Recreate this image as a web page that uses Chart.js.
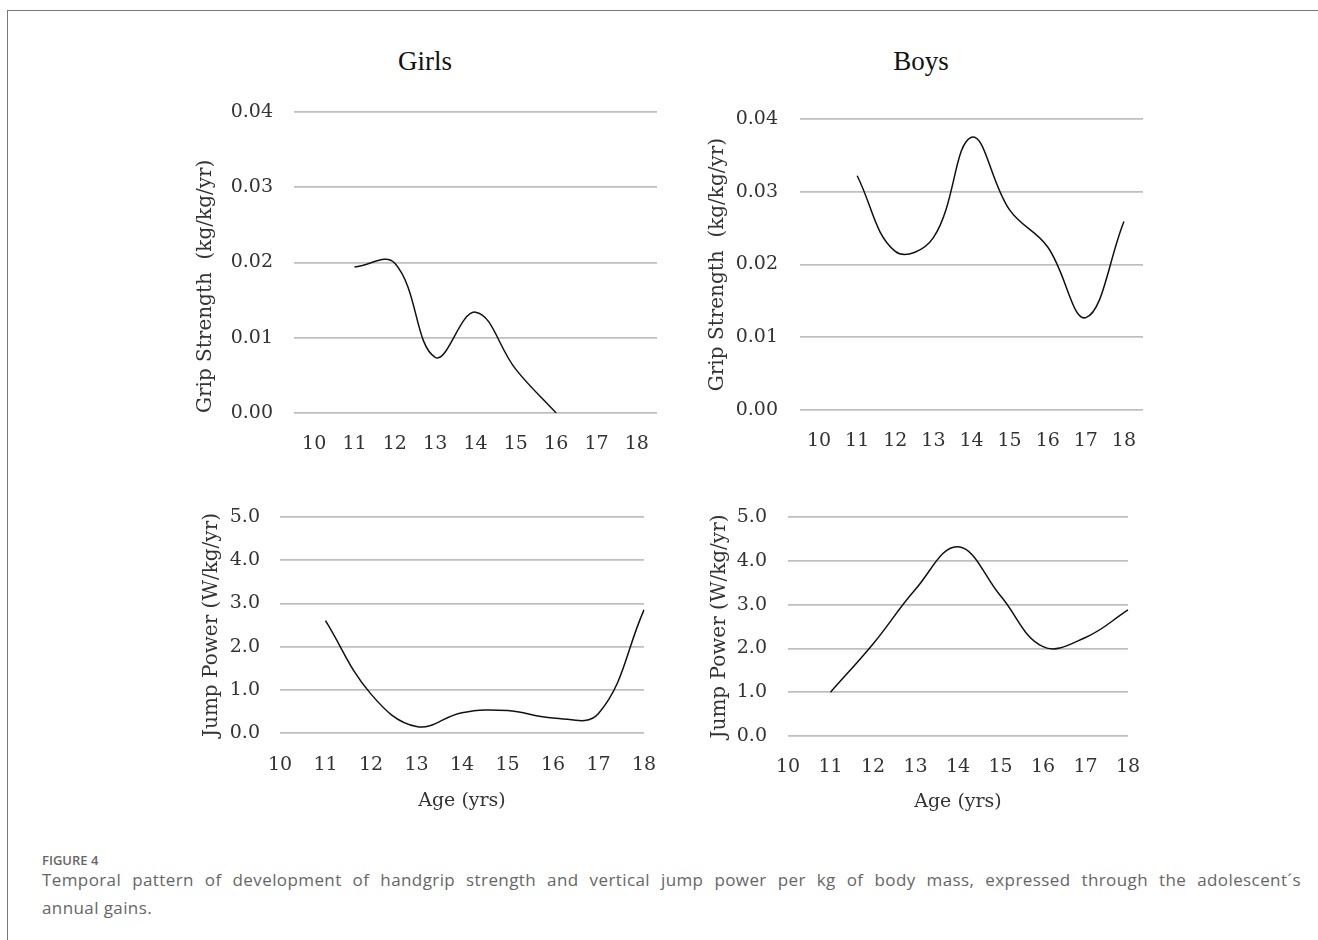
<!DOCTYPE html>
<html>
<head>
<meta charset="utf-8">
<script src="https://cdn.jsdelivr.net/npm/chart.js@4.4.1/dist/chart.umd.min.js"></script>
<style>
body { margin: 0; background: #fff; width: 1318px; height: 940px; overflow: hidden; position: relative; }
#frame { position: absolute; left: 7px; top: 10px; width: 1330px; height: 950px; border-left: 1px solid #777; border-top: 1px solid #777; }
canvas { position: absolute; }
.head { position: absolute; font-family: "Liberation Serif", serif; font-size: 27px; color: #111; transform: translate(-50%, -50%); white-space: nowrap; }
#figlabel { position: absolute; left: 42px; top: 851px; font-family: "Open Sans", sans-serif; font-size: 13px; font-weight: 600; color: #666; }
#caption { position: absolute; left: 42px; top: 866px; width: 1259px; font-family: "Open Sans", sans-serif; font-size: 17px; letter-spacing: 0.4px; line-height: 28px; color: #666; }
#caption .l1 { display: block; text-align: justify; text-align-last: justify; }
#caption .l2 { display: block; }
</style>
</head>
<body>
<div id="frame"></div>
<div class="head" style="left:425px; top:61px;">Girls</div>
<div class="head" style="left:921px; top:61px;">Boys</div>

<canvas id="girlsGripChart" width="489" height="375" style="left:180px; top:90px;"></canvas>
<canvas id="boysGripChart" width="465" height="375" style="left:690px; top:90px;"></canvas>
<canvas id="girlsJumpChart" width="478" height="330" style="left:180px; top:490px;"></canvas>
<canvas id="boysJumpChart" width="452" height="330" style="left:690px; top:490px;"></canvas>

<div id="figlabel">FIGURE 4</div>
<div id="caption"><span class="l1">Temporal pattern of development of handgrip strength and vertical jump power per kg of body mass, expressed through the adolescent´s</span><span class="l2">annual gains.</span></div>

<script>
// ages on the x axis (yrs)
var ages = ['10', '11', '12', '13', '14', '15', '16', '17', '18'];

// annual gain in grip strength (kg/kg/yr)
var girlsGrip = [null, 0.0194, 0.0199, 0.0074, 0.0134, 0.0058, 0.0000, null, null];
var boysGrip = [null, 0.0322, 0.0218, 0.0237, 0.0375, 0.0275, 0.0224, 0.0127, 0.0259];

// annual gain in jump power (W/kg/yr)
var girlsJump = [null, 2.60, 0.90, 0.15, 0.47, 0.52, 0.35, 0.45, 2.85];
var boysJump = [null, 1.00, 2.10, 3.35, 4.32, 3.20, 2.04, 2.25, 2.88];

var gripTitle = 'Grip Strength  (kg/kg/yr)';
var jumpTitle = 'Jump Power (W/kg/yr)';
var ageTitle = 'Age (yrs)';

var serif = '"DejaVu Serif", serif';
var textColor = '#333';

function buildChart(id, values, s) {
	var ctx = document.getElementById(id).getContext('2d');
	return new Chart(ctx, {
		type: 'line',
		data: {
			labels: ages,
			datasets: [{
				data: values,
				borderColor: '#111',
				borderWidth: 1.5,
				pointRadius: 0,
				tension: 0.4,
				fill: false
			}]
		},
		options: {
			responsive: false,
			animation: false,
			layout: { padding: { top: s.padTop, right: s.padRight, bottom: 0, left: 0 } },
			plugins: { legend: { display: false }, tooltip: { enabled: false } },
			scales: {
				x: {
					offset: s.offset,
					grid: { display: false, drawTicks: false },
					border: { display: false },
					ticks: { autoSkip: false, maxRotation: 0, padding: s.xPad, color: textColor, font: { family: serif, size: 19 } },
					title: {
						display: !!s.xTitle,
						text: s.xTitle || '',
						color: textColor,
						padding: { top: 0, bottom: s.xTitlePad },
						font: { family: serif, size: 19 }
					},
					afterFit: function(scale) {
						scale.height = s.xh;
						scale.paddingLeft = 0;
						scale.paddingRight = 0;
					}
				},
				y: {
					min: 0,
					max: s.max,
					grid: { color: '#bfbfbf', lineWidth: 1.8, drawTicks: false },
					border: { display: false },
					ticks: {
						stepSize: s.step,
						padding: s.yPad,
						color: textColor,
						font: { family: serif, size: 19 },
						callback: function(v) { return Number(v).toFixed(s.dec); }
					},
					title: {
						display: true,
						text: s.yTitle,
						align: s.yAlign,
						color: textColor,
						padding: { top: s.yTitlePad, bottom: 0 },
						font: { family: serif, size: 20 }
					},
					afterFit: function(scale) {
						// keep the plot edges where the layout padding puts them
						scale.width = s.yw;
						scale.paddingTop = 0;
						scale.paddingBottom = 0;
					}
				}
			}
		}
	});
}

buildChart('girlsGripChart', girlsGrip, {
	padTop: 22, padRight: 12, yw: 114, xh: 52, xPad: 20, yPad: 21,
	offset: true, max: 0.04, step: 0.01, dec: 2,
	yTitle: gripTitle, yAlign: 'start', yTitlePad: 14
});
buildChart('boysGripChart', boysGrip, {
	padTop: 29, padRight: 12, yw: 110, xh: 55, xPad: 20, yPad: 22,
	offset: true, max: 0.04, step: 0.01, dec: 2,
	yTitle: gripTitle, yAlign: 'center', yTitlePad: 16
});
buildChart('girlsJumpChart', girlsJump, {
	padTop: 27, padRight: 14, yw: 100, xh: 87, xPad: 21, yPad: 20,
	offset: false, max: 5, step: 1, dec: 1,
	yTitle: jumpTitle, yAlign: 'center', yTitlePad: 20,
	xTitle: ageTitle, xTitlePad: 8
});
buildChart('boysJumpChart', boysJump, {
	padTop: 27, padRight: 14, yw: 98, xh: 84, xPad: 20, yPad: 21,
	offset: false, max: 5, step: 1, dec: 1,
	yTitle: jumpTitle, yAlign: 'center', yTitlePad: 18,
	xTitle: ageTitle, xTitlePad: 7
});
</script>
</body>
</html>
